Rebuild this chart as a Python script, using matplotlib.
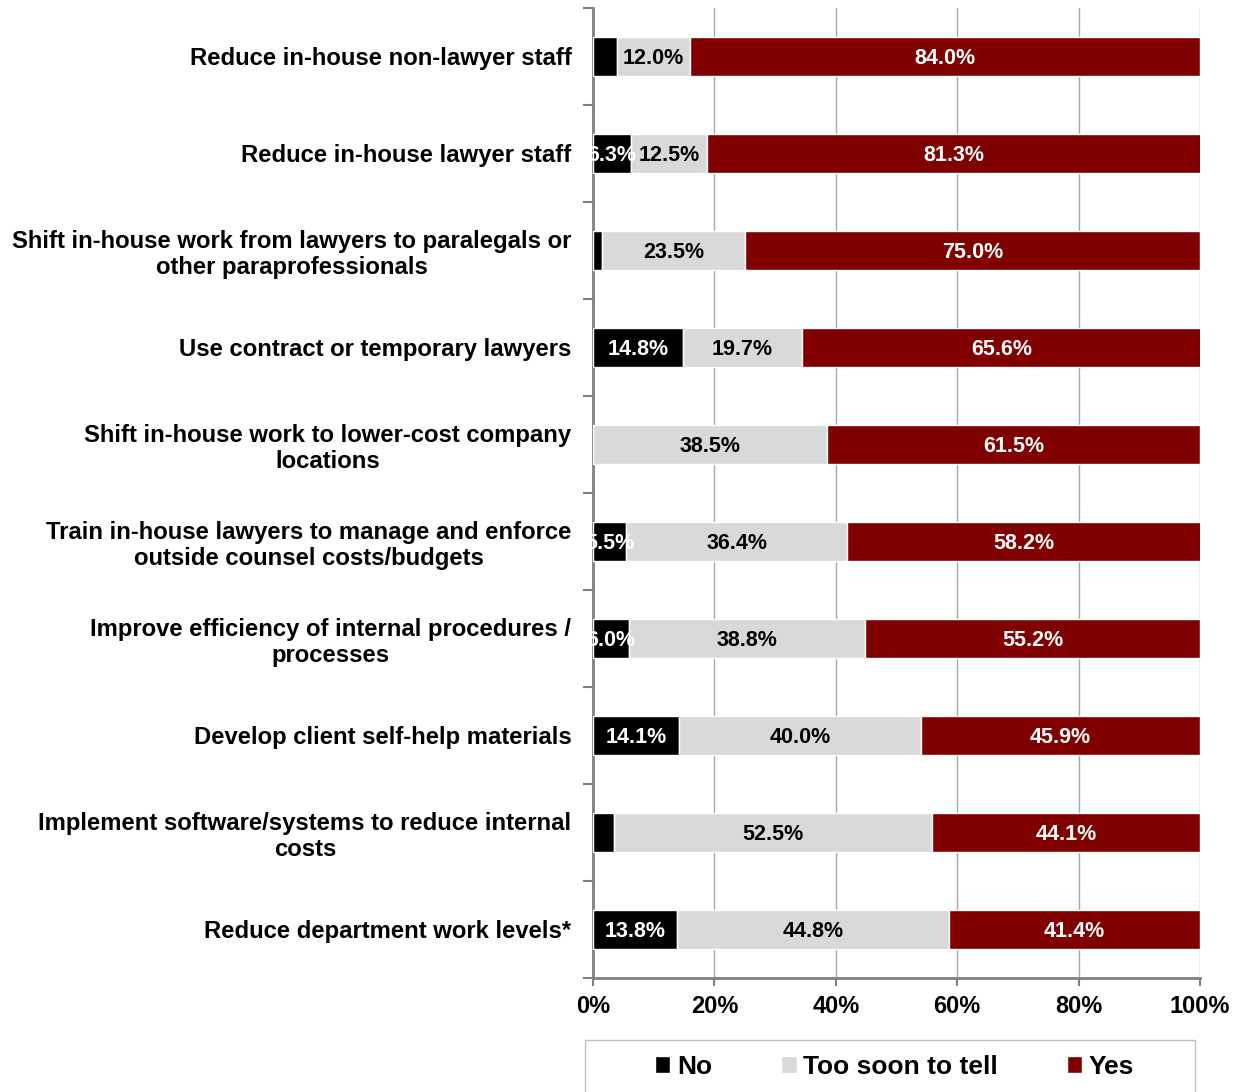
import numpy as np
import matplotlib.pyplot as plt
from matplotlib.patches import Rectangle

plt.rcParams['font.family'] = ['Liberation Sans', 'DejaVu Sans']
plt.rcParams['font.weight'] = 'bold'

categories = [
    "Reduce in-house non-lawyer staff",
    "Reduce in-house lawyer staff",
    "Shift in-house work from lawyers to paralegals or\nother paraprofessionals",
    "Use contract or temporary lawyers",
    "Shift in-house work to lower-cost company\nlocations",
    "Train in-house lawyers to manage and enforce\noutside counsel costs/budgets",
    "Improve efficiency of internal procedures /\nprocesses",
    "Develop client self-help materials",
    "Implement software/systems to reduce internal\ncosts",
    "Reduce department work levels*",
]
no = [4.0, 6.3, 1.5, 14.8, 0.0, 5.5, 6.0, 14.1, 3.4, 13.8]
too_soon = [12.0, 12.5, 23.5, 19.7, 38.5, 36.4, 38.8, 40.0, 52.5, 44.8]
yes = [84.0, 81.3, 75.0, 65.6, 61.5, 58.2, 55.2, 45.9, 44.1, 41.4]

series = [("No", no, "#000000", "white", 5.0),
          ("Too soon to tell", too_soon, "#d9d9d9", "black", 0.0),
          ("Yes", yes, "#800000", "white", 0.0)]

fig = plt.figure(figsize=(12.44, 10.92), dpi=100)
ax = fig.add_axes([0.4767, 0.1044, 0.4879, 0.8883])

y = np.arange(len(categories))
left = np.zeros(len(categories))
for name, vals, color, tcolor, minlab in series:
    vals = np.array(vals)
    ax.barh(y, vals, left=left, height=0.4, color=color, edgecolor="white",
            linewidth=1, label=name, zorder=3)
    for yi, (l, v) in enumerate(zip(left, vals)):
        if v > 0 and v >= minlab:
            ax.text(l + v / 2, yi + 0.02, f"{v:.1f}%", ha="center", va="center",
                    color=tcolor, fontsize=15.5, fontweight="bold", zorder=4)
    left += vals

ax.set_xlim(0, 100)
ax.set_ylim(len(categories) - 0.5, -0.5)
ax.set_xticks(np.arange(0, 101, 20))
ax.set_xticklabels([f"{t}%" for t in range(0, 101, 20)], fontsize=17,
                   fontweight="bold")
ax.xaxis.grid(True, color="#a6a6a6", linewidth=1, zorder=0)

ax.set_yticks(y)
ax.set_yticklabels(categories, fontsize=17.2, fontweight="bold", ha="right",
                   linespacing=1.15, multialignment="center")
ax.tick_params(axis="y", length=0, pad=15.5)
ax.set_yticks(np.arange(-0.5, len(categories) + 0.5, 1), minor=True)
ax.tick_params(axis="y", which="minor", length=7, width=1.5, color="#808080")
ax.tick_params(axis="x", length=6, width=1.5, color="#808080", pad=6)

for s in ["top", "right"]:
    ax.spines[s].set_visible(False)
for s in ["left", "bottom"]:
    ax.spines[s].set_color("#808080")
    ax.spines[s].set_linewidth(2)

# legend box (cut off by the bottom edge like the original)
fig.patches.append(Rectangle((0.4703, -0.01), 0.4904, 0.0576,
                             transform=fig.transFigure, fill=False,
                             edgecolor="#bfbfbf", linewidth=1))
leg = fig.legend(*ax.get_legend_handles_labels(), loc="center",
                 bbox_to_anchor=(0.719, 0.0229), ncol=3, frameon=False,
                 fontsize=19, handlelength=0.6, handleheight=0.6,
                 handletextpad=0.25, columnspacing=2.6, borderpad=0)
for t in leg.get_texts():
    t.set_fontweight("bold")

fig.savefig("out.png", dpi=100)
